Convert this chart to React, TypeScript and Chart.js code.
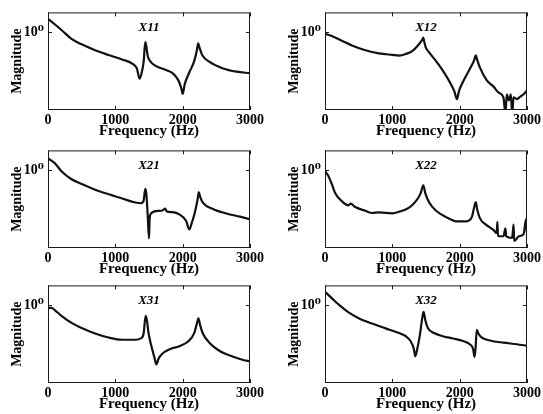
import React, { useEffect, useRef } from "react";
import { Chart, registerables } from "chart.js";

Chart.register(...registerables);

const FONT = "'Liberation Serif', 'Times New Roman', 'DejaVu Serif', serif";

// shared axis definitions
const xTickValues = [0, 1000, 2000, 3000];
const yTickValue = 1;
const yTickLabel = "10⁰";
const xAxisLabel = "Frequency (Hz)";
const yAxisLabel = "Magnitude";
const panelTitles = ["X11", "X12", "X21", "X22", "X31", "X32"];

// X11
const x11Freq = [0, 100, 200, 350, 500, 700, 900, 1100, 1250, 1320, 1360, 1390, 1420, 1445, 1460, 1480, 1520, 1600, 1750, 1850, 1930, 1980, 2000, 2030, 2100, 2170, 2210, 2230, 2250, 2290, 2400, 2600, 2800, 3000];
const x11Mag = [2.17, 1.57, 1.12, 0.66, 0.48, 0.34, 0.257, 0.197, 0.155, 0.116, 0.0635, 0.0877, 0.17, 0.547, 0.436, 0.247, 0.176, 0.135, 0.106, 0.0877, 0.06, 0.036, 0.0257, 0.0453, 0.0927, 0.176, 0.33, 0.507, 0.397, 0.257, 0.17, 0.116, 0.096, 0.0877];

// X12
const x12Freq = [0, 100, 250, 400, 600, 800, 1000, 1100, 1200, 1300, 1380, 1430, 1450, 1460, 1475, 1495, 1550, 1650, 1750, 1850, 1920, 1960, 1990, 2050, 2150, 2210, 2240, 2260, 2300, 2400, 2500, 2580, 2650, 2680, 2700, 2730, 2760, 2780, 2800, 2850, 2900, 2950, 3000];
const x12Mag = [0.895, 0.785, 0.594, 0.45, 0.34, 0.283, 0.258, 0.248, 0.272, 0.328, 0.45, 0.58, 0.66, 0.72, 0.55, 0.41, 0.294, 0.178, 0.102, 0.0532, 0.0305, 0.0191, 0.0305, 0.0532, 0.112, 0.178, 0.25, 0.195, 0.123, 0.0583, 0.0403, 0.0278, 0.021, 0.008, 0.0253, 0.0175, 0.0253, 0.008, 0.021, 0.0191, 0.0219, 0.0253, 0.0316];

// X21
const x21Freq = [0, 100, 200, 350, 500, 700, 900, 1100, 1300, 1380, 1420, 1445, 1460, 1480, 1500, 1510, 1540, 1600, 1700, 1740, 1760, 1850, 1950, 2050, 2100, 2130, 2180, 2220, 2240, 2260, 2300, 2450, 2650, 2850, 3000];
const x21Mag = [1.97, 1.49, 0.927, 0.578, 0.436, 0.31, 0.238, 0.186, 0.146, 0.14, 0.163, 0.328, 0.247, 0.0726, 0.0176, 0.0602, 0.0798, 0.0877, 0.0912, 0.102, 0.0877, 0.0828, 0.0726, 0.0498, 0.0299, 0.0412, 0.0798, 0.17, 0.272, 0.205, 0.146, 0.1, 0.0767, 0.0635, 0.0547];

// X22
const x22Freq = [0, 50, 100, 150, 250, 350, 380, 450, 600, 700, 800, 1000, 1100, 1250, 1350, 1420, 1460, 1490, 1550, 1650, 1800, 1950, 2100, 2180, 2220, 2240, 2260, 2300, 2400, 2500, 2550, 2560, 2570, 2650, 2680, 2690, 2780, 2800, 2810, 2880, 2950, 2985, 3000];
const x22Mag = [0.933, 0.703, 0.441, 0.257, 0.158, 0.123, 0.138, 0.112, 0.0897, 0.0787, 0.0817, 0.0773, 0.0847, 0.108, 0.158, 0.251, 0.403, 0.251, 0.144, 0.0897, 0.0617, 0.0483, 0.0483, 0.0617, 0.119, 0.149, 0.0984, 0.0582, 0.0386, 0.0292, 0.0242, 0.0466, 0.02, 0.02, 0.032, 0.02, 0.0182, 0.04, 0.0151, 0.02, 0.0228, 0.054, 0.0242];

// X31
const x31Freq = [0, 50, 100, 200, 350, 500, 700, 900, 1100, 1300, 1380, 1420, 1450, 1470, 1490, 1530, 1580, 1610, 1640, 1700, 1800, 1950, 2080, 2170, 2210, 2235, 2260, 2300, 2400, 2550, 2750, 2900, 3000];
const x31Mag = [0.843, 0.843, 0.74, 0.527, 0.347, 0.257, 0.186, 0.146, 0.128, 0.128, 0.14, 0.186, 0.527, 0.396, 0.205, 0.0964, 0.0453, 0.0299, 0.0412, 0.0568, 0.0726, 0.0877, 0.116, 0.186, 0.328, 0.453, 0.299, 0.186, 0.106, 0.066, 0.047, 0.0389, 0.036];

// X32
const x32Freq = [0, 100, 200, 350, 500, 700, 900, 1100, 1200, 1270, 1320, 1340, 1370, 1410, 1450, 1465, 1490, 1530, 1620, 1750, 1900, 2050, 2150, 2200, 2220, 2235, 2255, 2275, 2320, 2450, 2650, 2850, 3000];
const x32Mag = [2.17, 1.49, 1.03, 0.643, 0.457, 0.333, 0.251, 0.19, 0.158, 0.119, 0.0745, 0.0483, 0.0745, 0.173, 0.532, 0.667, 0.403, 0.251, 0.19, 0.158, 0.138, 0.119, 0.0984, 0.0745, 0.0466, 0.0745, 0.229, 0.19, 0.149, 0.123, 0.108, 0.0984, 0.0897];

const seriesFreq = [x11Freq, x12Freq, x21Freq, x22Freq, x31Freq, x32Freq];
const seriesMag = [x11Mag, x12Mag, x21Mag, x22Mag, x31Mag, x32Mag];

const framePlugin = {
  id: "frame",
  afterDraw(chart: any, _args: any, opts: any) {
    const { ctx, chartArea: a, scales } = chart;
    ctx.save();
    ctx.strokeStyle = "#1a1a1a";
    ctx.lineWidth = 1;
    ctx.strokeRect(a.left + 0.5, a.top + 0.5, a.right - a.left - 1, a.bottom - a.top - 1);
    ctx.beginPath();
    xTickValues.forEach((v) => {
      const px = Math.round(scales.x.getPixelForValue(v)) + 0.5;
      ctx.moveTo(px, a.bottom);
      ctx.lineTo(px, a.bottom - 4);
      ctx.moveTo(px, a.top);
      ctx.lineTo(px, a.top + 4);
    });
    const py = Math.round(scales.y.getPixelForValue(yTickValue)) + 0.5;
    ctx.moveTo(a.left, py);
    ctx.lineTo(a.left + 4, py);
    ctx.moveTo(a.right, py);
    ctx.lineTo(a.right - 4, py);
    ctx.stroke();
    ctx.fillStyle = "#000";
    ctx.font = `italic bold 13px ${FONT}`;
    ctx.textAlign = "center";
    ctx.textBaseline = "middle";
    ctx.fillText(opts.title, (a.left + a.right) / 2, a.top + 15);
    ctx.restore();
  },
};

type PanelProps = {
  idx: number;
  left: number;
  top: number;
  width: number;
  padL: number;
  padR: number;
};

function Panel({ idx, left, top, width, padL, padR }: PanelProps) {
  const ref = useRef<HTMLCanvasElement>(null);
  useEffect(() => {
    const freq = seriesFreq[idx];
    const mag = seriesMag[idx];
    const chart = new Chart(ref.current as HTMLCanvasElement, {
      type: "line",
      data: {
        datasets: [
          {
            data: freq.map((f, i) => ({ x: f, y: mag[i] })),
            borderColor: "#111",
            borderWidth: 2.2,
            pointRadius: 0,
            fill: false,
            cubicInterpolationMode: "monotone",
          },
        ],
      },
      options: {
        animation: false,
        responsive: false,
        maintainAspectRatio: false,
        layout: { padding: { left: padL, right: padR, top: 7, bottom: 0 } },
        plugins: {
          legend: { display: false },
          tooltip: { enabled: false },
          frame: { title: panelTitles[idx] },
        } as any,
        scales: {
          x: {
            type: "linear",
            min: 0,
            max: 3000,
            afterBuildTicks: (s: any) => {
              s.ticks = xTickValues.map((v) => ({ value: v }));
            },
            afterFit: (s: any) => {
              s.height = 29;
            },
            grid: { display: false, drawTicks: false },
            border: { display: false },
            ticks: {
              color: "#000",
              font: { family: FONT, size: 14, weight: "bold" },
              padding: 2,
              maxRotation: 0,
              autoSkip: false,
              callback: (v: any) => String(v),
            },
            title: {
              display: true,
              text: xAxisLabel,
              color: "#000",
              font: { family: FONT, size: 15, weight: "bold", lineHeight: 1.1 },
              padding: { top: 0, bottom: 0 },
            },
          },
          y: {
            type: "logarithmic",
            min: 0.01,
            max: 3.1623,
            afterBuildTicks: (s: any) => {
              s.ticks = [{ value: yTickValue }];
            },
            afterFit: (s: any) => {
              s.width = 42;
            },
            grid: { display: false, drawTicks: false },
            border: { display: false },
            ticks: {
              color: "#000",
              font: { family: FONT, size: 14, weight: "bold" },
              padding: 4,
              callback: () => yTickLabel,
            },
            title: {
              display: true,
              text: yAxisLabel,
              color: "#000",
              font: { family: FONT, size: 14, weight: "bold" },
              padding: { top: 3, bottom: 0 },
            },
          },
        } as any,
      },
      plugins: [framePlugin as any],
    });
    return () => chart.destroy();
  }, [idx]);
  return (
    <canvas
      ref={ref}
      width={width}
      height={139}
      style={{ position: "absolute", left, top, width, height: 139 }}
    />
  );
}

const rowTops = [0, 138, 273];

export default function App() {
  const panels = [];
  for (let r = 0; r < 3; r++) {
    panels.push(
      <Panel key={`${r}-0`} idx={r * 2} left={0} top={rowTops[r]} width={270} padL={6} padR={20} />
    );
    panels.push(
      <Panel key={`${r}-1`} idx={r * 2 + 1} left={277} top={rowTops[r]} width={266} padL={6} padR={16} />
    );
  }
  return (
    <div style={{ position: "absolute", left: 0, top: 0, width: 543, height: 414, background: "#fff" }}>
      {panels}
    </div>
  );
}
